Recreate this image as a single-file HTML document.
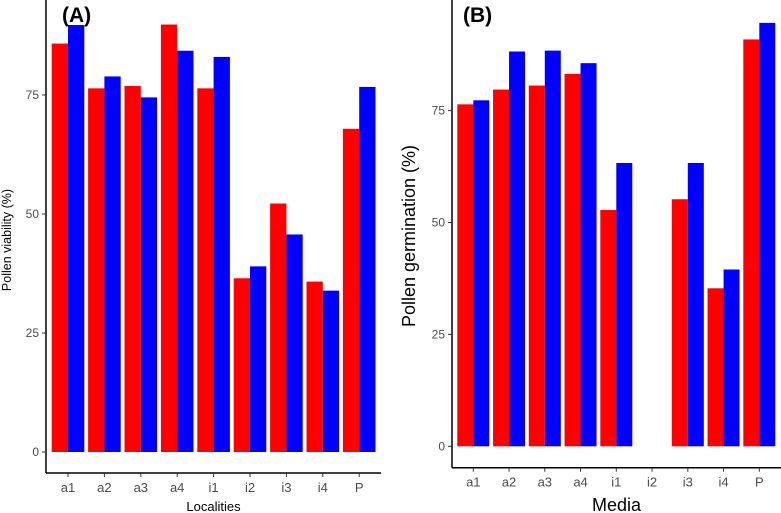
<!DOCTYPE html>
<html><head><meta charset="utf-8"><style>
html,body{margin:0;padding:0;background:#fff;}
svg{display:block;font-family:"Liberation Sans",Arial,sans-serif;}
</style></head><body>
<svg id="c" width="781" height="513" viewBox="0 0 781 513"></svg>
<script>
const categoriesA = ["a1","a2","a3","a4","i1","i2","i3","i4","P"];
const viabilityRed = [85.8,76.4,76.9,89.8,76.4,36.5,52.2,35.8,67.9];
const viabilityBlue = [89.7,78.9,74.5,84.3,83.0,39.0,45.7,33.9,76.7];
const categoriesB = ["a1","a2","a3","a4","i1","i2","i3","i4","P"];
const germinationRed = [76.4,79.7,80.6,83.2,52.8,0,55.2,35.3,90.9];
const germinationBlue = [77.3,88.2,88.4,85.6,63.3,0,63.3,39.5,94.6];
const yTicks = [0,25,50,75];

const NS="http://www.w3.org/2000/svg";
const svg=document.getElementById('c');
function mk(tag,attrs,parent){const e=document.createElementNS(NS,tag);for(const k in attrs)e.setAttribute(k,attrs[k]);(parent||svg).appendChild(e);return e;}

function panel(o){
  const g=mk('g',{});
  
  
  const y=v=>o.y0-v*o.ppu;
  const x=i=>o.x0+i*o.step;
  // bars
  o.cats.forEach((c,i)=>{
    [[o.red,'#ff0000',-1],[o.blue,'#0000ff',0]].forEach(([arr,col,off])=>{
      const v=arr[i]; if(v<=0) return;
      const r=mk('rect',{x:x(i)+off*o.bw,y:y(v),width:o.bw,height:y(0)-y(v),fill:col},g);
      
      
    });
  });
  // axes
  const ya=mk('line',{x1:o.ax,y1:0,x2:o.ax,y2:o.bot,stroke:'#000','stroke-width':1.5},g);
  
  
  const xa=mk('line',{x1:o.ax,y1:o.bot,x2:o.right,y2:o.bot,stroke:'#000','stroke-width':1.5},g);
  
  
  yTicks.forEach(t=>{
    mk('line',{x1:o.ax-4,y1:y(t),x2:o.ax,y2:y(t),stroke:'#333'},g);
    const tx=mk('text',{x:o.ax-7,y:y(t)+4,'text-anchor':'end','font-size':12,fill:'#4d4d4d'},g);
    tx.textContent=t;
    
    
  });
  o.cats.forEach((c,i)=>{
    mk('line',{x1:x(i),y1:o.bot,x2:x(i),y2:o.bot+4,stroke:'#333'},g);
    const tx=mk('text',{x:x(i),y:o.bot+19,'text-anchor':'middle','font-size':13,fill:'#4d4d4d'},g);
    tx.textContent=c;
    
    
  });
  const xt=mk('text',{x:(o.ax+o.right)/2,y:o.xty,'text-anchor':'middle','font-size':o.xfs,fill:'#000'},g);
  xt.textContent=o.xtitle;
  
  
  const yt=mk('text',{x:0,y:0,'text-anchor':'middle','font-size':o.yfs,fill:'#000',transform:`translate(${o.ytx},${o.yty}) rotate(-90)`},g);
  yt.textContent=o.ytitle;
  
  
  const lb=mk('text',{x:o.lx,y:22,'font-size':21,'font-weight':'bold',fill:'#000'},g);
  lb.textContent=o.label;
  
  
}
panel({name:'panel-a',cats:categoriesA,red:viabilityRed,blue:viabilityBlue,x0:68,step:36.4,bw:16.3,y0:452,ppu:4.76,ax:46,bot:473,right:381,xtitle:'Localities',xty:511,xfs:13,ytitle:'Pollen viability (%)',ytx:11,yty:240,yfs:12.5,label:'(A)',lx:62});
panel({name:'panel-b',cats:categoriesB,red:germinationRed,blue:germinationBlue,x0:473.3,step:35.75,bw:16,y0:446.3,ppu:4.476,ax:452,bot:467.7,right:781,xtitle:'Media',xty:511,xfs:18,ytitle:'Pollen germination (%)',ytx:415,yty:236,yfs:18,label:'(B)',lx:463});
</script>
</body></html>
